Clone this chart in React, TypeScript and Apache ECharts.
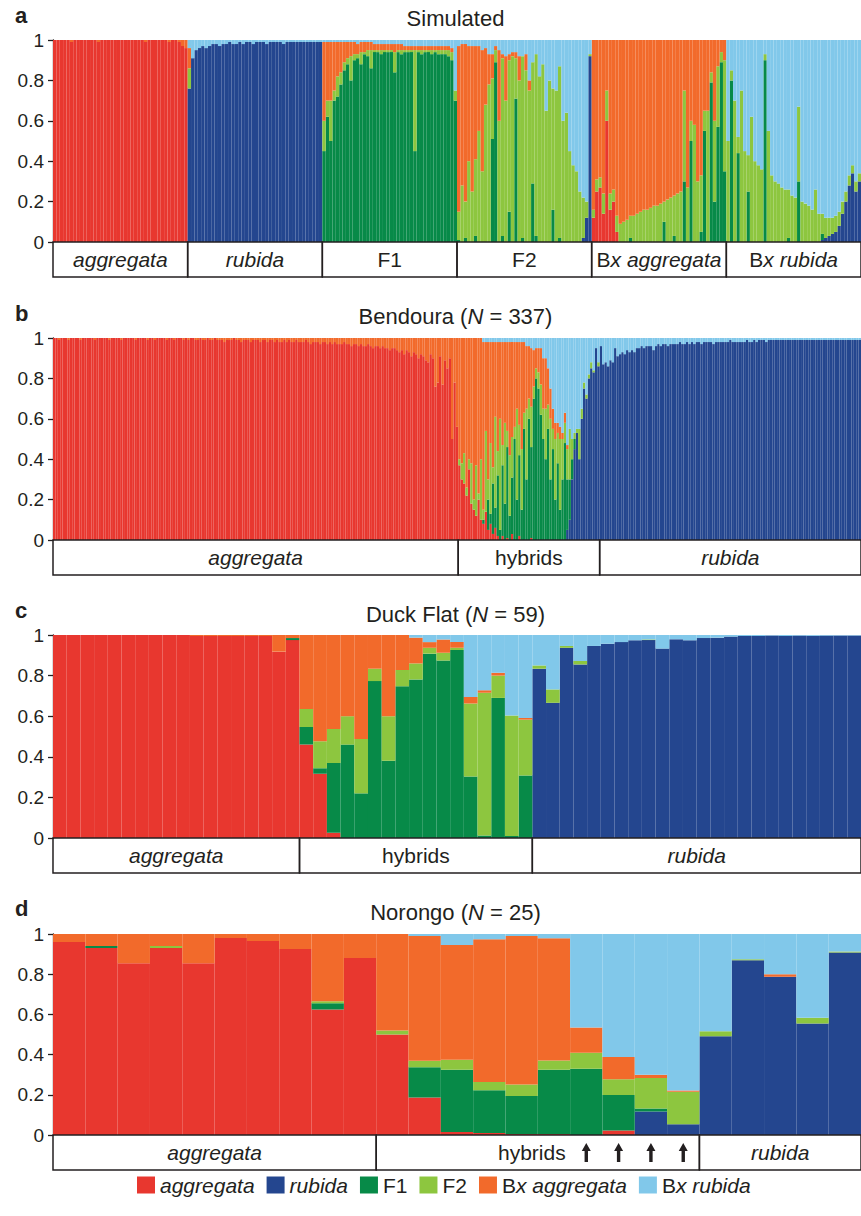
import React, { useEffect, useRef } from 'react';
import * as echarts from 'echarts';

type Comp = 'red' | 'blue' | 'f1' | 'f2' | 'bxa' | 'bxr';
const COMPS: Comp[] = ['red', 'blue', 'f1', 'f2', 'bxa', 'bxr'];
const COMP_NAMES = ['aggregata', 'rubida', 'F1', 'F2', 'Bx aggregata', 'Bx rubida'];
const COMP_COLORS = ['#E8372F', '#24468F', '#078A48', '#8DC63F', '#F26A2B', '#81C8EA'];

// ===== values are admixture proportions in percent; "fill" component takes the rest up to 100 =====

// ---------- a: Simulated (40 individuals drawn per class) ----------
const simGroupLabels = ['aggregata', 'rubida', 'F1', 'F2', 'Bx aggregata', 'Bx rubida'];
const simGroupSizes = [40, 40, 40, 40, 40, 40];

const simAggRed = [100,100,100,100,100,99,100,100,100,100,100,100,100,99,100,100,100,100,100,100,
  100,100,100,100,100,100,100,99,100,100,100,100,100,100,99,100,100,99,97,96];

const simRubBlue = [76,91,95,96,97,96,97,98,98,97,98,98,99,98,98,99,98,99,99,98,
  99,99,99,98,99,99,99,99,98,99,99,99,99,99,99,99,99,99,99,99];
const simRubF2 = [10,0,0,0,0,0,0,0,0,0,0,0,0,0,0,0,0,0,0,0,0,0,0,0,0,0,0,0,0,0,0,0,0,0,0,0,0,0,0,0];
const simRubBxA = [10,0,0,0,0,0,0,0,0,0,0,0,0,0,0,0,0,0,0,0,0,0,0,0,0,0,0,0,0,0,0,0,0,0,0,0,0,0,0,0];

const simF1F1 = [45,62,50,70,72,78,85,88,80,90,91,88,93,92,86,94,94,93,94,94,
  94,84,94,93,94,94,94,45,94,93,94,94,93,94,93,93,93,92,90,70];
const simF1F2 = [15,8,20,5,10,6,4,3,12,3,2,6,1,3,9,1,1,2,1,1,
  1,10,1,2,1,1,1,50,1,2,1,1,2,1,2,2,2,3,4,5];
const simF1BxA = [39,29,29,24,17,15,10,8,7,6,5,5,5,4,4,3,3,3,3,3,
  3,4,3,3,2,2,2,2,2,2,2,2,2,2,2,2,2,2,2,0];

const simF2F1 = [1,0,2,0,0,3,0,0,0,0,51,89,0,3,0,15,0,71,0,2,
  0,0,29,3,0,0,0,0,16,0,2,0,0,0,0,0,0,0,0,0];
const simF2F2 = [14,28,18,40,25,38,55,35,68,78,30,6,60,88,70,75,92,20,80,90,
  85,75,60,90,82,88,65,80,60,75,85,60,64,45,38,35,25,20,8,1];
const simF2BxA = [82,70,78,57,72,56,42,60,28,15,12,2,35,2,22,3,2,3,12,0,
  8,5,0,0,0,0,0,0,0,0,0,0,0,0,0,0,0,0,0,0];
const simF2Blue = [0,0,0,0,0,0,0,0,0,0,0,0,0,0,0,0,0,0,0,0,
  0,0,0,0,0,0,0,0,0,0,0,0,0,0,0,0,0,2,12,92];

const simBxARed = [12,25,27,14,60,16,20,5,0,0,0,0,0,0,0,0,0,0,0,0,
  0,0,0,0,0,0,0,0,0,0,0,0,0,0,0,0,0,0,0,0];
const simBxAF1 = [0,0,0,0,0,0,0,0,0,0,0,2,0,0,0,0,0,0,0,0,
  0,10,0,0,3,0,0,30,0,50,0,0,5,55,0,79,20,57,89,35];
const simBxAF2 = [4,6,5,10,15,8,6,8,9,10,11,11,13,14,15,16,16,17,18,18,
  19,10,21,22,20,24,25,45,27,10,58,30,28,10,65,5,40,30,5,55];

const simBxRBlue = [0,0,0,0,0,0,0,0,0,0,0,0,0,0,0,0,0,0,0,0,
  0,0,0,0,0,0,0,0,1,2,3,4,5,8,14,20,28,34,25,30];
const simBxRF1 = [0,80,0,44,0,0,25,0,0,0,0,90,0,0,0,0,0,0,2,0,
  0,30,0,0,0,0,0,0,3,0,0,0,0,0,0,0,0,0,0,0];
const simBxRF2 = [50,5,70,8,75,45,18,62,40,38,36,3,55,33,30,29,27,26,24,23,
  22,37,20,19,18,16,26,14,10,10,9,8,8,7,6,5,5,4,5,4];

// ---------- b: Bendoura (N = 337) ----------
const bendGroupLabels = ['aggregata', 'hybrids', 'rubida'];
const bendGroupSizes = [169, 59, 109];

const bendAggRed = [
  100,100,99,100,100,100,99,100,100,100,100,99,100,100,100,100,100,99,100,100,
  100,100,100,99,100,100,100,100,99,100,100,100,100,100,99,100,100,100,100,99,
  100,100,99,100,100,100,100,99,100,100,99,100,100,100,99,100,99,100,100,99,
  99,100,99,99,100,99,99,100,99,99,99,98,99,99,99,100,99,99,98,99,
  99,99,98,99,99,99,98,99,99,98,99,99,98,99,98,98,99,98,99,98,
  98,99,98,98,98,99,98,97,98,98,98,97,98,98,97,98,97,98,97,97,
  97,98,97,97,96,97,97,96,97,96,96,97,96,95,96,96,95,96,95,95,
  94,95,95,94,93,94,92,94,93,91,93,92,90,92,91,89,88,92,90,76,
  78,91,77,89,85,90,50,78,56];

const bendHybRed = [37,30,28,22,35,18,15,12,20,10,8,14,5,8,3,6,2,0,2,0,
  1,0,3,0,0,2,0,0,0,0,1,0,0,0,0,0,0,0,0,0,
  0,0,0,0,0,0,0,0,0,0,0,0,0,0,0,0,0,0,0];
const bendHybBlue = [0,0,0,0,0,0,0,0,0,0,0,0,0,0,0,0,0,0,0,0,
  0,0,0,0,0,0,0,0,0,0,0,0,0,0,0,0,0,0,0,0,
  0,0,0,0,0,5,10,30,45,53,40,60,75,70,80,85,83,95,86];
const bendHybF1 = [0,0,0,0,0,0,0,0,0,0,2,0,15,5,25,10,30,5,35,18,
  45,12,28,50,20,40,15,55,30,60,45,70,80,75,62,50,40,55,30,45,
  20,38,15,30,48,25,20,10,5,0,0,0,0,0,0,0,0,0,0];
const bendHybF2 = [3,8,15,4,5,20,5,25,3,30,5,40,10,35,8,45,12,55,10,40,
  8,30,20,6,45,15,30,8,35,10,20,6,5,8,15,15,25,12,30,10,
  30,15,35,20,10,15,25,10,3,2,15,5,3,2,2,3,1,0,2];
const bendHybBxA = [60,62,57,74,60,62,80,63,77,60,83,44,68,50,62,37,54,38,51,40,
  44,56,47,42,33,41,53,35,31,26,29,18,10,12,18,25,25,18,15,10,
  8,5,6,3,5,2,0,0,0,0,0,0,0,0,0,0,0,0,0];

const bendRubBlue = [
  96,87,88,86,89,88,95,91,92,93,92,94,93,94,93,95,95,96,95,96,
  96,96,94,96,97,96,97,97,96,97,97,97,97,98,97,97,98,97,98,97,
  98,98,97,98,98,98,98,97,98,98,98,98,98,98,99,98,98,98,98,98,
  98,99,98,98,99,98,99,99,99,98,99,99,99,99,99,99,99,99,99,99,
  99,99,99,99,99,99,99,99,99,99,99,99,99,99,99,99,99,99,99,99,
  99,99,99,99,99,99,99,99,99];

// ---------- c: Duck Flat (N = 59) ----------
const duckGroupLabels = ['aggregata', 'hybrids', 'rubida'];
const duckGroupSizes = [18, 17, 24];
const duckRed = [100,100,100,100,100,100,100,100,100,100,99.5,99.5,99.5,99.5,99.5,99.5,91.8,97.5,
  46,31.6,2.6,0,0,0,0,0,0,0,0,0,0,0,0,0,0,
  0,0,0,0,0,0,0,0,0,0,0,0,0,0,0,0,0,0,0,0,0,0,0,0];
const duckBlue = [0,0,0,0,0,0,0,0,0,0,0,0,0,0,0,0,0,0,
  0,0,0,0,0,0,0,0,0,0,0,0,0,0,0,0,0,
  83.4,66.6,93.7,85.5,94.6,95.7,96.5,97.4,97.5,93.3,97.9,97.4,98.5,98.7,99.2,99.5,99.5,99.8,99.5,99.7,99.6,99.7,99.8,99.8];
const duckF1 = [0,0,0,0,0,0,0,0,0,0,0,0,0,0,0,0,0,1,
  8.7,2.8,34.3,46,22,77.3,38,74.8,78.1,90.8,87.5,92.6,30.3,1.2,69,1,30.8,
  0,0,0,0,0,0,0,0,0,0,0,0,0,0,0,0,0,0,0,0,0,0,0,0];
const duckF2 = [0,0,0,0,0,0,0,0,0,0,0,0,0,0,0,0,0,0,
  8.9,13.2,16.8,14,26.8,6.1,22,7.9,7.9,2.9,3.8,1.1,35.9,70.3,11,59.3,27.5,
  1.6,6.6,0.9,1.7,0,0,0,0,0.3,0,0,0,0,0,0,0,0,0,0,0,0,0,0,0];
const duckBxA = [0,0,0,0,0,0,0,0,0,0,0.5,0.5,0.5,0.5,0.5,0.5,8.2,1.5,
  36.4,52.4,46.3,40,51.2,16.6,40,17.3,12.7,2.8,6.5,2.8,3.3,1.3,1.4,0,0.8,
  0,0,0,0,0,0,0,0,0,0,0,0,0,0,0,0,0,0,0,0,0,0,0,0];

// ---------- d: Norongo (N = 25) ----------
const noroGroupLabels = ['aggregata', 'hybrids', 'rubida'];
const noroGroupSizes = [10, 10, 5];
const noroRed = [96,93,85.5,93,85.5,98,96.5,92.5,62.5,88,50,18.7,1.5,1,0.5,0.5,0,2.3,0,0,0,0,0,0,0];
const noroBlue = [0,0,0,0,0,0,0,0,0,0,0,0,0,0,0,0,0,0,11.7,5.4,49.1,86.9,78.7,55.5,90.8];
const noroF1 = [0,1,0,0,0,0,0,0,3,0,0,15,31,21.3,18.9,32,33,17.6,1.5,0,0,0,0,0,0];
const noroF2 = [0,0,0,1,0,0,0,0,1,0,2,3.3,5,4.1,5.7,4.6,7.9,7.8,15.2,16.1,2.5,0.5,0,2.8,0.5];
const noroBxA = [4,6,14.5,6,14.5,2,3.5,7.5,33.5,12,48,62,57,71,73.9,60.8,12.6,11.1,1.6,0.7,0,0,1.3,0,0];
const noroArrowBars = [16, 17, 18, 19];

// ================= helpers =================
interface Section { fill: Comp; parts: Partial<Record<Comp, number[]>>; }

function buildPanel(sections: Section[]) {
  const out: Record<Comp, number[]> = { red: [], blue: [], f1: [], f2: [], bxa: [], bxr: [] };
  for (const s of sections) {
    const n = Math.max(...Object.values(s.parts).map((a) => (a as number[]).length));
    for (let i = 0; i < n; i++) {
      let sum = 0;
      for (const c of COMPS) {
        if (c === s.fill) continue;
        const arr = s.parts[c];
        const v = arr && arr[i] != null ? arr[i] : 0;
        sum += v;
        out[c].push(v / 100);
      }
      out[s.fill].push(Math.max(0, 100 - sum) / 100);
    }
  }
  return out;
}

const simData = buildPanel([
  { fill: 'bxa', parts: { red: simAggRed } },
  { fill: 'bxr', parts: { blue: simRubBlue, f2: simRubF2, bxa: simRubBxA } },
  { fill: 'bxr', parts: { f1: simF1F1, f2: simF1F2, bxa: simF1BxA } },
  { fill: 'bxr', parts: { blue: simF2Blue, f1: simF2F1, f2: simF2F2, bxa: simF2BxA } },
  { fill: 'bxa', parts: { red: simBxARed, f1: simBxAF1, f2: simBxAF2 } },
  { fill: 'bxr', parts: { blue: simBxRBlue, f1: simBxRF1, f2: simBxRF2 } },
]);
const bendData = buildPanel([
  { fill: 'bxa', parts: { red: bendAggRed } },
  { fill: 'bxr', parts: { red: bendHybRed, blue: bendHybBlue, f1: bendHybF1, f2: bendHybF2, bxa: bendHybBxA } },
  { fill: 'bxr', parts: { blue: bendRubBlue } },
]);
const duckData = buildPanel([
  { fill: 'bxr', parts: { red: duckRed, blue: duckBlue, f1: duckF1, f2: duckF2, bxa: duckBxA } },
]);
const noroData = buildPanel([
  { fill: 'bxr', parts: { red: noroRed, blue: noroBlue, f1: noroF1, f2: noroF2, bxa: noroBxA } },
]);

const FONT = '"Liberation Sans", Arial, Helvetica, sans-serif';
const INK = '#231F20';

const PANELS = [
  { letter: 'a', title: '{n|Simulated}', data: simData, labels: simGroupLabels, sizes: simGroupSizes, arrows: [] as number[], shift: [0, 0, 0, 0, 0, 0] },
  { letter: 'b', title: '{n|Bendoura (}{i|N}{n| = 337)}', data: bendData, labels: bendGroupLabels, sizes: bendGroupSizes, arrows: [] as number[], shift: [0, 0, 0] },
  { letter: 'c', title: '{n|Duck Flat (}{i|N}{n| = 59)}', data: duckData, labels: duckGroupLabels, sizes: duckGroupSizes, arrows: [] as number[], shift: [0, 0, 0] },
  { letter: 'd', title: '{n|Norongo (}{i|N}{n| = 25)}', data: noroData, labels: noroGroupLabels, sizes: noroGroupSizes, arrows: noroArrowBars, shift: [0, -6, 0] },
];

// layout
const GRIDS = [
  { top: 40, height: 202 },
  { top: 338, height: 202 },
  { top: 635, height: 203 },
  { top: 934, height: 201 },
];
const TITLE_BASELINE = [26.5, 324.5, 622, 920];
const LETTER_BASELINE = [23.3, 321, 618.5, 916.5];
const BOX_H = 35;
const LEGEND_CENTER_Y = 1185;

function richLabel(name: string) {
  if (name === 'aggregata' || name === 'rubida') return `{i|${name}}`;
  if (name.startsWith('Bx ')) return `{n|B}{i|x ${name.slice(3)}}`;
  return `{n|${name}}`;
}

const RICH_Z = (size: number) => ({
  n: { fontSize: size, fontFamily: FONT, fill: INK, color: INK },
  i: { fontSize: size, fontFamily: FONT, fontStyle: 'italic', fill: INK, color: INK },
});

export default function App() {
  const ref = useRef<HTMLDivElement>(null);
  useEffect(() => {
    document.body.style.margin = '0';
    const chart = echarts.init(ref.current!, null, { renderer: 'svg' });
    const series: any[] = [];
    PANELS.forEach((pn, p) => {
      COMPS.forEach((c, ci) => {
        series.push({
          type: 'bar',
          name: COMP_NAMES[ci],
          stack: 'panel' + p,
          xAxisIndex: p,
          yAxisIndex: p,
          data: pn.data[c],
          barCategoryGap: '0%',
          barGap: '0%',
          itemStyle: { color: COMP_COLORS[ci] },
          silent: true,
          emphasis: { disabled: true },
        });
      });
    });

    const option: any = {
      animation: false,
      backgroundColor: '#ffffff',
      grid: GRIDS.map((g) => ({ left: 53, width: 817, top: g.top, height: g.height, containLabel: false })),
      xAxis: PANELS.map((pn, p) => ({
        type: 'category',
        gridIndex: p,
        data: pn.data.red.map((_, i) => String(i)),
        axisLabel: { show: false },
        axisTick: { show: false },
        axisLine: { show: false },
        splitLine: { show: false },
      })),
      yAxis: PANELS.map((_, p) => ({
        type: 'value',
        gridIndex: p,
        min: 0,
        max: 1,
        interval: 0.2,
        splitLine: { show: false },
        axisLine: { show: true, lineStyle: { color: INK, width: 1.3 } },
        axisTick: { show: true, length: 5, lineStyle: { color: INK, width: 1.3 } },
        axisLabel: { fontSize: 19, color: INK, fontFamily: FONT, margin: 9 },
      })),
      series,
    };
    chart.setOption(option);

    const gfx: any[] = [];
    PANELS.forEach((pn, p) => {
      const c0 = chart.convertToPixel({ gridIndex: p } as any, [0, 0]) as number[];
      const c1 = chart.convertToPixel({ gridIndex: p } as any, [1, 0]) as number[];
      const bw = c1[0] - c0[0];
      const y0 = c0[1];
      const left = c0[0] - bw / 2;
      let start = 0;
      pn.sizes.forEach((sz, gi) => {
        const x0 = left + start * bw;
        const x1 = x0 + sz * bw;
        gfx.push({
          type: 'rect', z: 100, silent: true,
          shape: { x: x0, y: y0, width: x1 - x0, height: BOX_H },
          style: { fill: 'none', stroke: INK, lineWidth: 1.5 },
        });
        gfx.push({
          type: 'text', z: 101, silent: true,
          x: (x0 + x1) / 2 + pn.shift[gi], y: y0 + BOX_H / 2,
          style: {
            text: richLabel(pn.labels[gi]), rich: RICH_Z(21),
            fontSize: 21, fontFamily: FONT, fill: INK,
            textAlign: 'center', textVerticalAlign: 'middle',
          },
        });
        start += sz;
      });
      pn.arrows.forEach((k) => {
        const cx = c0[0] + k * bw;
        gfx.push({
          type: 'polygon', z: 101, silent: true,
          shape: {
            points: [
              [cx, y0 + 8], [cx + 4.5, y0 + 16], [cx + 1.7, y0 + 16], [cx + 1.7, y0 + 27],
              [cx - 1.7, y0 + 27], [cx - 1.7, y0 + 16], [cx - 4.5, y0 + 16],
            ],
          },
          style: { fill: INK },
        });
      });
      gfx.push({
        type: 'text', z: 101, silent: true,
        x: 455.5, y: TITLE_BASELINE[p] - 0.3465 * 22,
        style: {
          text: pn.title, rich: RICH_Z(22), fontSize: 22, fontFamily: FONT, fill: INK,
          textAlign: 'center', textVerticalAlign: 'middle',
        },
      });
      gfx.push({
        type: 'text', z: 101, silent: true,
        x: 15, y: LETTER_BASELINE[p] - 0.3465 * 22,
        style: {
          text: pn.letter, fontSize: 22, fontWeight: 'bold', fontFamily: FONT, fill: INK,
          textAlign: 'left', textVerticalAlign: 'middle',
        },
      });
    });

    // legend: swatch + label per ancestry class, laid out left to right
    let lx = 137;
    COMP_NAMES.forEach((name, ci) => {
      gfx.push({
        type: 'rect', z: 101, silent: true,
        shape: { x: lx, y: LEGEND_CENTER_Y - 8.5, width: 18, height: 17 },
        style: { fill: COMP_COLORS[ci] },
      });
      const txt = richLabel(name);
      const probe = new echarts.graphic.Text({
        style: { text: txt, rich: RICH_Z(21), fontSize: 21, fontFamily: FONT },
      });
      const tw = probe.getBoundingRect().width;
      gfx.push({
        type: 'text', z: 101, silent: true,
        x: lx + 23, y: LEGEND_CENTER_Y,
        style: {
          text: txt, rich: RICH_Z(21), fontSize: 21, fontFamily: FONT, fill: INK,
          textAlign: 'left', textVerticalAlign: 'middle',
        },
      });
      lx += 23 + tw + 12;
    });

    chart.setOption({ graphic: gfx });

    return () => chart.dispose();
  }, []);
  return (
    <div
      ref={ref}
      style={{ position: 'absolute', left: 0, top: 0, width: 861, height: 1216, background: '#fff' }}
    />
  );
}
